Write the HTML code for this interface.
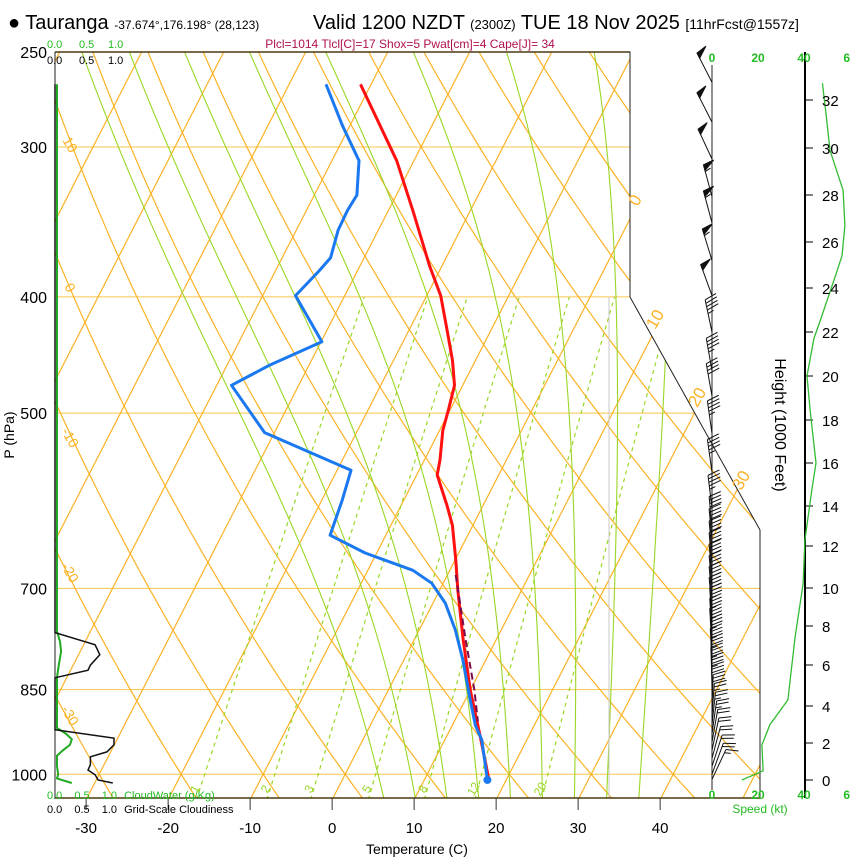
<!DOCTYPE html>
<html><head><meta charset="utf-8"><style>
html,body{margin:0;padding:0;background:#fff;}
svg{display:block;font-family:"Liberation Sans",sans-serif;}
</style></head><body>
<svg id="chart" width="850" height="860" viewBox="0 0 850 860" xmlns="http://www.w3.org/2000/svg">
<defs><clipPath id="plotclip"><polygon points="55,52 630,52 630,297 760,530 760,798 55,798"/></clipPath></defs>
<g id="bg" clip-path="url(#plotclip)"></g>
<g id="frame"></g>
<g id="traces"></g>
<g id="side"></g>
<g id="labels">
<text x="8" y="29" font-size="20">● Tauranga <tspan font-size="12">-37.674°,176.198° (28,123)</tspan></text>
<text x="313" y="29" font-size="20">Valid 1200 NZDT <tspan font-size="13">(2300Z)</tspan> TUE 18 Nov 2025 <tspan font-size="14">[11hrFcst@1557z]</tspan></text>
<text x="410" y="48" font-size="12" fill="#b0104f" text-anchor="middle">Plcl=1014 Tlcl[C]=17 Shox=5 Pwat[cm]=4 Cape[J]= 34</text>
<text x="47" y="48" font-size="11" fill="#22bb22">0.0</text>
<text x="79" y="48" font-size="11" fill="#22bb22">0.5</text>
<text x="108" y="48" font-size="11" fill="#22bb22">1.0</text>
<text x="47" y="64" font-size="11">0.0</text>
<text x="79" y="64" font-size="11">0.5</text>
<text x="108" y="64" font-size="11">1.0</text>
<text x="47" y="799" font-size="11" fill="#22bb22">0.0 <tspan dx="9">0.5</tspan> <tspan dx="9">1.0</tspan> <tspan dx="4">CloudWater (g/Kg)</tspan></text>
<text x="47" y="813" font-size="11">0.0 <tspan dx="9">0.5</tspan> <tspan dx="9">1.0</tspan> <tspan dx="4">Grid-Scale Cloudiness</tspan></text>
<text x="417" y="854" font-size="14" text-anchor="middle">Temperature (C)</text>
<text transform="translate(14,435) rotate(-90)" font-size="14" text-anchor="middle">P (hPa)</text>
<text transform="translate(775,425) rotate(90)" font-size="16" text-anchor="middle">Height (1000 Feet)</text>
<text x="760" y="813" font-size="12" fill="#22bb22" text-anchor="middle">Speed (kt)</text>
</g>
</svg>
<script>
// ---- data ----
const tempP=[266,308,339,377,399,426,452,474,497,517,547,563,597,620,663,702,773,851,928,1011];
const tempT=[-41.3,-32.1,-27.0,-21.5,-18.3,-15.4,-12.8,-11.0,-10.2,-9.6,-8.1,-7.5,-4.4,-2.5,0.1,2.2,6.0,10.0,14.0,17.9];
const dewP=[266,288,308,329,339,352,371,381,399,436,456,474,519,558,591,632,654,676,693,720,758,803,867,910,936,1011];
const dewT=[-45.5,-40.9,-36.7,-34.8,-35.0,-34.9,-34.1,-34.7,-36.0,-29.9,-34.8,-38.2,-31.2,-18.3,-17.5,-16.8,-11.4,-4.5,-1.4,1.5,4.4,7.2,10.6,12.8,14.5,17.7];
const parcelP=[682,773,851,904];
const parcelT=[1.0,6.3,10.5,12.9];
const cloudP=[266,762,780,795,811,819,831,918,933,945,958,967,982,992,1001,1011,1017];
const cloudV=[0,0,0.68,0.76,0.6,0.56,0,0,1.0,1.0,0.88,0.6,0.6,0.56,0.68,0.73,0.98];
const cwP=[266,760,775,790,811,830,915,925,935,945,955,965,985,1000,1008,1017];
const cwV=[0,0,0.05,0.07,0.03,0,0,0.15,0.25,0.22,0.1,0,0,0.02,0,0.25];
const spdH=[32.7,31.4,29.9,28.2,26.7,25.4,24.6,22.5,21.7,20.0,18.5,16.0,14.8,12.3,10.2,7.4,4.3,3.0,1.9,0.5,0];
const spdK=[48,49.6,51.3,57,57.8,56.5,53.9,47,44.3,41.3,42.6,45.2,43.5,40.4,39.6,36.1,33,25.2,21.7,22.2,13];
const windP=[265,286,307,330,347,373,399,428,461,484,520,560,600,625,640,655,670,685,700,715,730,745,760,775,790,805,820,835,850,865,880,895,910,925,940,955,970,985,1000,1010];
const windS=[50,50,52,57,57,55,52,46,44,42,45,45,43,40,40,40,39,39,39,38,38,37,37,36,36,35,34,34,33,32,30,27,25,23,22,22,22,22,20,15];
const windD=[333,333,335,345,345,343,340,348,350,350,352,352,353,355,355,355,355,355,355,355,355,356,356,356,357,357,358,358,359,0,2,4,6,8,10,12,15,18,20,25];
const tempTicks=[-30,-20,-10,0,10,20,30,40];
const presTicks=[250,300,400,500,700,850,1000];
const mixW=[1,2,3,5,8,12,20];
const moistT0=[4,8,12,16,20,24,28,32,36];
const htLabels=[0,2,4,6,8,10,12,14,16,18,20,22,24,26,28,30,32];
const htY=[780,743,706,665,626,588,546,506,463,420,376,332,288,242,195,148,100];
const spdTicks=[0,20,40,60];

// ---- axes ----
const NS="http://www.w3.org/2000/svg";
function yP(p){return 52+521*Math.log(p/250);}
function xT(T,p){return 333+8.2*T+0.513*(798-yP(p));}
function cwX(v){return 57+59*v;}
function spdX(s){return 712+2.3*s;}
function htToY(h){for(let i=0;i<htLabels.length-1;i++){if(h<=htLabels[i+1]){const f=(h-htLabels[i])/(htLabels[i+1]-htLabels[i]);return htY[i]+f*(htY[i+1]-htY[i]);}}const n=htLabels.length;return htY[n-1]+(h-htLabels[n-1])*(htY[n-1]-htY[n-2])/2;}
function mk(tag,attrs,parent){const e=document.createElementNS(NS,tag);for(const k in attrs)e.setAttribute(k,attrs[k]);parent.appendChild(e);return e;}
function pts(a){return a.map(q=>q[0].toFixed(1)+","+q[1].toFixed(1)).join(" ");}
const bg=document.getElementById('bg'),fr=document.getElementById('frame'),tr=document.getElementById('traces'),sd=document.getElementById('side'),lb=document.getElementById('labels');
const ORG="#fbb224",GRN="#9ad625";

[300,400,500,700,850,1000].forEach(p=>{const l=mk('line',{x1:55,x2:760,y1:yP(p),y2:yP(p),stroke:"#f9c54a","stroke-width":1},bg);

});
for(let T=-140;T<=50;T+=10){const l=mk('line',{x1:xT(T,1050),y1:yP(1050),x2:xT(T,200),y2:yP(200),stroke:ORG,"stroke-width":1.2},bg);

}
for(let th=-40;th<=200;th+=10){const a=[];for(let p=1050;p>=245;p-=10){a.push([xT((th+273.15)*Math.pow(p/1000,0.286)-273.15,p),yP(p)]);}
const l=mk('polyline',{points:pts(a),fill:"none",stroke:ORG,"stroke-width":1.2},bg);

}
function es(T){return 6.112*Math.exp(17.67*T/(T+243.5));}
function dTdp(T,p){const Tk=T+273.15,e=es(T),rs=0.622*e/(p-e),Lv=2.5e6;return (287*Tk+Lv*rs)/(p*(1005+Lv*Lv*rs*0.622/(287*Tk*Tk)));}
moistT0.forEach(T0=>{const a=[];let T=T0;for(let p=1000;p<=1050;p+=2){a.unshift([xT(T,p),yP(p)]);T+=dTdp(T,p)*2;}
T=T0;for(let p=1000;p>=246;p-=2){a.push([xT(T,p),yP(p)]);T-=dTdp(T,p)*2;}
const l=mk('polyline',{points:pts(a),fill:"none",stroke:GRN,"stroke-width":1.1},bg);

});
function tdw(w,p){const e=w*p/(622+w),L=Math.log(e/6.112);return 243.5*L/(17.67-L);}
mixW.forEach(w=>{const a=[];for(let p=1050;p>=400;p-=10)a.push([xT(tdw(w,p),p),yP(p)]);
const l=mk('polyline',{points:pts(a),fill:"none",stroke:GRN,"stroke-width":1.2,"stroke-dasharray":"4,4"},bg);


const x=xT(tdw(w,1050),1050);const t=mk('text',{transform:`translate(${x+2},791) rotate(-60)`,"font-size":12,fill:GRN,"text-anchor":"middle"},lb);t.textContent=w;

});
const gv=mk('line',{x1:609,x2:609,y1:297,y2:798,stroke:"#c8c8c8","stroke-width":1},bg);



const fp=mk('polyline',{points:"55,52 630,52 630,297 760,530 760,798",fill:"none",stroke:"#222","stroke-width":1},fr);


const bl=mk('line',{x1:55,x2:760,y1:798,y2:798,stroke:"#4a3a10","stroke-width":1.5},fr);


const ll=mk('line',{x1:55,x2:55,y1:52,y2:798,stroke:"#222","stroke-width":1},fr);


const tl=mk('line',{x1:55,x2:630,y1:52,y2:52,stroke:"#4a3a10","stroke-width":1.5},fr);


tempTicks.forEach(T=>{const x=xT(T,1050);const k=mk('line',{x1:x,x2:x,y1:798,y2:810,stroke:"#333"},fr);


const t=mk('text',{x:x,y:833,"font-size":15,"text-anchor":"middle"},lb);t.textContent=T;

});
presTicks.forEach(p=>{const t=mk('text',{x:47,y:yP(p)+6,"font-size":16,"text-anchor":"end"},lb);t.textContent=p;

});
[[640,203,"0"],[660,322,"10"],[702,400,"20"],[746,483,"30"]].forEach(a=>{const t=mk('text',{transform:`translate(${a[0]},${a[1]}) rotate(-60)`,"font-size":17,fill:ORG,"text-anchor":"middle"},lb);t.textContent=a[2];

});
[["10",147],["0",290],["-10",440],["-20",575],["-30",718]].forEach(a=>{
const t=mk('text',{transform:`translate(66,${a[1]}) rotate(60)`,"font-size":14,fill:ORG,"text-anchor":"middle"},lb);t.textContent=a[0];

});

function line(P,V,attrs,name){const a=P.map((p,i)=>[xT(V[i],p),yP(p)]);const e=mk('polyline',Object.assign({points:pts(a),fill:"none","stroke-linejoin":"round"},attrs),tr);

return e;}
line(tempP,tempT,{stroke:"#ff1010","stroke-width":3},'temperature-trace');
line(parcelP,parcelT,{stroke:"#7a0a4a","stroke-width":2,"stroke-dasharray":"7,4"},'parcel-trace');
line(dewP,dewT,{stroke:"#1a78f0","stroke-width":3},'dewpoint-trace');
const sfc=mk('circle',{cx:xT(dewT[dewT.length-1],dewP[dewP.length-1]),cy:yP(dewP[dewP.length-1]),r:4,fill:"#1a78f0"},tr);



const cw=mk('polyline',{points:pts(cwP.map((p,i)=>[cwX(cwV[i]),yP(p)])),fill:"none",stroke:"#22aa22","stroke-width":2},sd);


const cl=mk('polyline',{points:pts(cloudP.map((p,i)=>[cwX(cloudV[i])-2,yP(p)])),fill:"none",stroke:"#111","stroke-width":1.5},sd);



const ha=mk('line',{x1:805,x2:805,y1:52,y2:798,stroke:"#000","stroke-width":2},sd);


htLabels.forEach((h,i)=>{const k=mk('line',{x1:805,x2:813,y1:htY[i],y2:htY[i],stroke:"#000"},sd);


const t=mk('text',{x:822,y:htY[i]+6,"font-size":15},lb);t.textContent=h;

});
spdTicks.forEach(s=>{[62,799].forEach(yy=>{const t=mk('text',{x:spdX(s),y:yy,"font-size":12,"font-weight":"bold",fill:"#22bb22","text-anchor":"middle"},lb);t.textContent=s;

});});
const sa=mk('line',{x1:712,x2:712,y1:65,y2:790,stroke:"#222","stroke-width":1},sd);


const sc=mk('polyline',{points:pts(spdH.map((h,i)=>[spdX(spdK[i]),htToY(h)])),fill:"none",stroke:"#33bb33","stroke-width":1.3},sd);



windP.forEach((p,i)=>{const bx=712,by=yP(p),d=windD[i]*Math.PI/180,L=33;
const vx=Math.sin(d),vy=-Math.cos(d),px=-vy,py=vx;
const g=mk('g',{stroke:"#111","stroke-width":1,fill:"#111"},sd);


const tx=bx+vx*L,ty=by+vy*L;mk('line',{x1:bx,y1:by,x2:tx,y2:ty},g);
let s=Math.round(windS[i]/5)*5,pos=0;
while(s>=50){const ax=tx-vx*pos,ay=ty-vy*pos;mk('polygon',{points:pts([[ax,ay],[ax+px*11+vx*2,ay+py*11+vy*2],[ax-vx*6,ay-vy*6]])},g);pos+=7;s-=50;}
while(s>=10){const ax=tx-vx*pos,ay=ty-vy*pos;mk('line',{x1:ax,y1:ay,x2:ax+px*12+vx*4,y2:ay+py*12+vy*4},g);pos+=3.5;s-=10;}
if(s>=5){const ax=tx-vx*pos,ay=ty-vy*pos;mk('line',{x1:ax,y1:ay,x2:ax+px*6+vx*2,y2:ay+py*6+vy*2},g);}
});
</script>
</body></html>
